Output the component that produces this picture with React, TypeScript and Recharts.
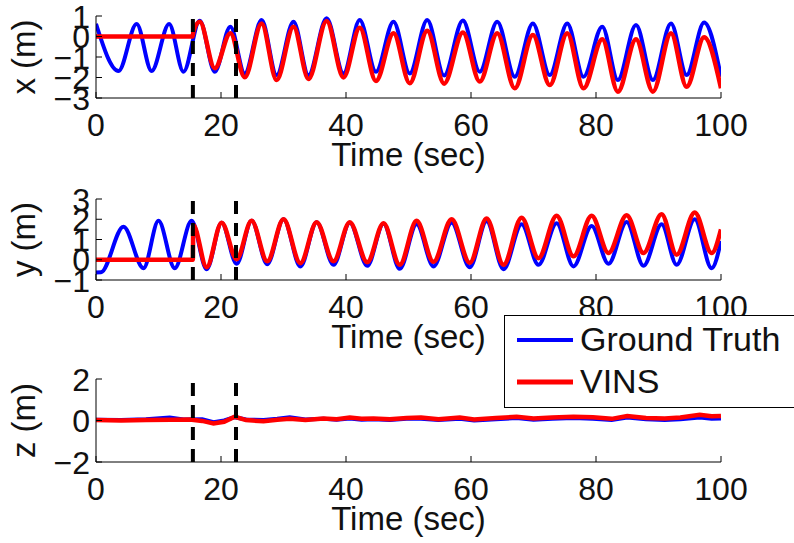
import React from "react";
import { LineChart, Line, XAxis, YAxis, ReferenceLine } from "recharts";

const timeTicks = [0, 20, 40, 60, 80, 100];
const xTicks = [-3, -2, -1, 0, 1];
const yTicks = [-1, 0, 1, 2, 3];
const zTicks = [-2, 0, 2];
// the two dashed markers (sec)
const phaseMarks = [15.5, 22.4];

// [time, value] (peaks / troughs)
const gtX = [
  [0, 0.62], [3.6, -1.68], [6.5, 0.61], [8.9, -1.68], [11.7, 0.61], [14, -1.72],
  [16.6, 0.77], [19, -1.72], [21.5, 0.48], [23.8, -1.8], [26.5, 0.8], [28.9, -1.88],
  [31.6, 0.72], [34, -1.88], [36.9, 0.89], [39.6, -1.8], [42.2, 0.8], [44.8, -1.72],
  [47.6, 0.72], [50.2, -1.8], [53, 0.8], [55.7, -1.9], [58.7, 0.78], [61.4, -1.72],
  [64.2, 0.72], [67, -1.96], [69.9, 0.64], [72.6, -1.88], [75.4, 0.64], [78, -1.96],
  [81, 0.48], [83.5, -2.12], [86.4, 0.56], [89.1, -2.12], [92, 0.64], [94.5, -1.88],
  [97.3, 0.68], [100, -1.96],
];
const vinsX = [
  [0, 0], [15.45, 0], [15.6, 0.25], [16.6, 0.72], [19, -1.55], [21.5, 0.16],
  [23.8, -1.99], [26.5, 0.64], [28.9, -2.12], [31.6, 0.48], [34, -2.07], [36.9, 0.76],
  [39.6, -2.0], [42.2, 0.43], [44.8, -2.17], [47.6, 0.16], [50.2, -2.28], [53, 0.28],
  [55.7, -2.3], [58.7, 0.2], [61.4, -2.2], [64.2, 0.16], [67, -2.53], [69.9, 0.07],
  [72.6, -2.37], [75.4, 0.16], [78, -2.53], [81, -0.14], [83.5, -2.69], [86.4, -0.14],
  [89.1, -2.69], [92, 0.16], [94.5, -2.45], [97.3, -0.04], [100, -2.53],
];

const gtY = [
  [0, -0.63], [0.8, -0.62], [4.4, 1.63], [7.6, -0.42], [10, 1.92], [12.6, -0.42],
  [15.3, 1.92], [17.7, -0.47], [20.1, 1.83], [22.5, -0.2], [24.9, 1.92], [27.4, -0.22],
  [30, 2.0], [32.7, -0.33], [35.3, 1.85], [38, -0.25], [40.6, 1.83], [43.4, -0.3],
  [46, 1.78], [48.6, -0.45], [51.3, 1.75], [54, -0.33], [56.9, 1.83], [59.8, -0.37],
  [62.5, 1.9], [65.2, -0.47], [68.1, 1.75], [70.8, -0.25], [73.7, 1.8], [76.4, -0.33],
  [79.3, 1.67], [82, -0.2], [84.9, 1.87], [87.6, -0.3], [90.5, 1.75], [92.9, -0.25],
  [95.8, 2.0], [98.5, -0.42], [100, 0.92],
];
const vinsY = [
  [0, 0], [15.5, 0], [15.56, 1.72], [17.7, -0.37], [20.1, 1.83], [22.5, 0.03],
  [24.9, 1.92], [27.4, -0.08], [30, 2.0], [32.7, -0.17], [35.3, 1.85], [38, -0.08],
  [40.6, 1.85], [43.4, -0.12], [46, 1.8], [48.6, -0.25], [51.3, 1.92], [54, -0.1],
  [56.9, 2.0], [59.8, -0.15], [62.5, 2.04], [65.2, -0.25], [68.1, 2.08], [70.8, 0.08],
  [73.7, 2.17], [76.4, 0.17], [79.3, 2.17], [82, 0.33], [84.9, 2.2], [87.6, 0.33],
  [90.5, 2.25], [92.9, 0.25], [95.8, 2.33], [98.5, 0.33], [100, 1.5],
];

const gtZ = [
  [0, 0.04], [4, 0.03], [8, 0.06], [11.8, 0.14], [14, 0.05], [17, 0.06], [18.8, -0.08],
  [20.5, 0.0], [22.2, 0.16], [24, 0.05], [26.8, 0.02], [29, 0.08], [31, 0.16], [33.5, 0.05],
  [36.4, 0.08], [38.5, 0.04], [40.6, 0.1], [42.5, 0.04], [44.4, 0.06], [47, 0.02],
  [49.7, 0.08], [52, 0.08], [54.8, 0.02], [58.2, 0.08], [60.5, 0.0], [64, 0.06],
  [67.3, 0.12], [70, 0.04], [73, 0.08], [76.4, 0.12], [79.5, 0.08], [82.5, 0.02],
  [85, 0.14], [88, 0.06], [91, 0.02], [93.5, 0.06], [96.6, 0.14], [98.5, 0.08], [100, 0.1],
];
const vinsZ = [
  [0, 0.02], [4, 0.0], [8, 0.03], [12, 0.04], [15, 0.05], [17, -0.02], [18.8, -0.14],
  [20.5, -0.06], [22.2, 0.18], [24, 0.02], [26.8, -0.04], [29, 0.04], [31, 0.08],
  [33.5, 0.02], [36.4, 0.1], [38.5, 0.06], [40.6, 0.14], [42.5, 0.08], [44.4, 0.1],
  [47, 0.06], [49.7, 0.12], [52, 0.14], [54.8, 0.06], [58.2, 0.14], [60.5, 0.05],
  [64, 0.12], [67.3, 0.18], [70, 0.1], [73, 0.14], [76.4, 0.18], [79.5, 0.16],
  [82.5, 0.08], [85, 0.22], [88, 0.12], [91, 0.1], [93.5, 0.14], [96.6, 0.28],
  [98.5, 0.2], [100, 0.22],
];

const FONT = '"Liberation Sans", Arial, Helvetica, sans-serif';
const INK = "#111";
const fmt = (v: number) => (v < 0 ? `\u2212${-v}` : `${v}`);
const toRows = (pairs: number[][]) => pairs.map(([t, v]) => ({ t, v }));

// MATLAB style: ticks point into the plot
function YTick({ x, y, payload }: any) {
  return (
    <g>
      <line x1={x + 6} x2={x + 12} y1={y} y2={y} stroke="#000" />
      <text x={x} y={y + 11.5} textAnchor="end" fontSize={32} fontFamily={FONT} fill={INK}>
        {fmt(payload.value)}
      </text>
    </g>
  );
}

function XTick({ x, y, payload }: any) {
  return (
    <g>
      <line x1={x} x2={x} y1={y} y2={y - 6} stroke="#000" />
      <text x={x} y={y + 38} textAnchor="middle" fontSize={32} fontFamily={FONT} fill={INK}>
        {payload.value}
      </text>
    </g>
  );
}

function Panel({ top, height, plotTop, plotBottom, domain, ticks, gt, vins, curve }: any) {
  return (
    <div style={{ position: "absolute", left: 0, top }}>
      <LineChart
        width={794}
        height={height}
        margin={{ top: plotTop - top, right: 73, bottom: 0, left: 0 }}
      >
        <XAxis
          type="number"
          dataKey="t"
          domain={[0, 100]}
          ticks={timeTicks}
          interval={0}
          height={height - (plotBottom - top)}
          tick={<XTick />}
          tickSize={0}
          tickMargin={0}
          tickLine={false}
          axisLine={{ stroke: "#000" }}
          allowDataOverflow
        />
        <YAxis
          type="number"
          domain={domain}
          ticks={ticks}
          interval={0}
          width={96}
          tick={<YTick />}
          tickSize={0}
          tickMargin={6}
          tickLine={false}
          axisLine={{ stroke: "#000" }}
          allowDataOverflow
        />
        <Line
          data={toRows(gt)}
          dataKey="v"
          type={curve}
          stroke="#0000ff"
          strokeWidth={4}
          dot={false}
          activeDot={false}
          isAnimationActive={false}
        />
        <Line
          data={toRows(vins)}
          dataKey="v"
          type={curve}
          stroke="#ff0000"
          strokeWidth={4.5}
          dot={false}
          activeDot={false}
          isAnimationActive={false}
        />
        {phaseMarks.map((m) => (
          <ReferenceLine key={m} x={m} stroke="#000" strokeWidth={4} strokeDasharray="13 9" />
        ))}
      </LineChart>
    </div>
  );
}

const panels = [
  { label: "x (m)", top: 0, height: 180, plotTop: 16, plotBottom: 98, domain: [-3, 1], ticks: xTicks, gt: gtX, vins: vinsX, curve: "monotone" },
  { label: "y (m)", top: 180, height: 180, plotTop: 199, plotBottom: 280, domain: [-1, 3], ticks: yTicks, gt: gtY, vins: vinsY, curve: "monotone" },
  { label: "z (m)", top: 360, height: 183, plotTop: 379, plotBottom: 462, domain: [-2, 2], ticks: zTicks, gt: gtZ, vins: vinsZ, curve: "linear" },
];

export default function App() {
  return (
    <div style={{ position: "absolute", left: 0, top: 0, width: 794, height: 543, background: "#fff", overflow: "hidden" }}>
      {panels.map((p) => (
        <Panel key={p.label} {...p} />
      ))}
      {/* axis titles and legend on top */}
      <svg width={794} height={543} style={{ position: "absolute", left: 0, top: 0, pointerEvents: "none" }}>
        {panels.map((p) => (
          <g key={p.label} fontFamily={FONT} fontSize={33} fill={INK}>
            <text x={408.5} y={p.plotBottom + 68} textAnchor="middle">
              Time (sec)
            </text>
            <text
              transform={`translate(35, ${(p.plotTop + p.plotBottom) / 2}) rotate(-90)`}
              textAnchor="middle"
            >
              {p.label}
            </text>
          </g>
        ))}
        <rect x={504.5} y={315.5} width={300} height={92} fill="#fff" stroke="#000" strokeWidth={1} />
        <line x1={517} x2={573} y1={340} y2={340} stroke="#0000ff" strokeWidth={4} />
        <line x1={517} x2={573} y1={382} y2={382} stroke="#ff0000" strokeWidth={5} />
        <text x={580} y={351} fontFamily={FONT} fontSize={34} fill={INK}>
          Ground Truth
        </text>
        <text x={580} y={393} fontFamily={FONT} fontSize={34} fill={INK}>
          VINS
        </text>
      </svg>
    </div>
  );
}
